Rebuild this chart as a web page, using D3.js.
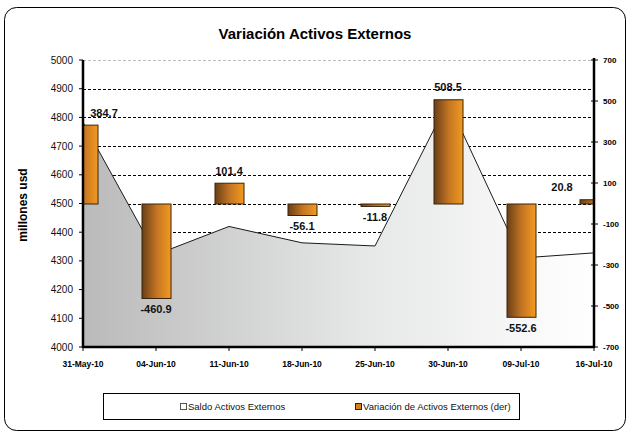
<!DOCTYPE html>
<html>
<head>
<meta charset="utf-8">
<script src="https://cdn.jsdelivr.net/npm/d3@7/dist/d3.min.js"></script>
<style>
  html, body { margin: 0; padding: 0; background: #fff; }
  svg { display: block; font-family: "Liberation Sans", Arial, sans-serif; }
</style>
</head>
<body>
<script>
// ---- data ----
const categories = ["31-May-10","04-Jun-10","11-Jun-10","18-Jun-10","25-Jun-10","30-Jun-10","09-Jul-10","16-Jul-10"];
const saldo = [4783, 4322, 4420, 4363, 4352, 4855, 4310, 4328];
const variacion = [384.7, -460.9, 101.4, -56.1, -11.8, 508.5, -552.6, 20.8];
const leftTicks = [4000,4100,4200,4300,4400,4500,4600,4700,4800,4900,5000];
const rightTicks = [-700,-500,-300,-100,100,300,500,700];
const seriesNames = ["Saldo Activos Externos", "Variación de Activos Externos (der)"];
const title = "Variación Activos Externos";
const yTitle = "millones usd";

const W = 630, H = 433;
const L = 83, R = 594, T = 60, B = 347;

const svg = d3.select("body").append("svg").attr("width", W).attr("height", H);
const defs = svg.append("defs");

const areaGrad = defs.append("linearGradient").attr("id","areaGrad")
  .attr("gradientUnits","userSpaceOnUse").attr("x1",L).attr("x2",R).attr("y1",0).attr("y2",0);
areaGrad.append("stop").attr("offset","0").attr("stop-color","#bababa");
areaGrad.append("stop").attr("offset","0.55").attr("stop-color","#e6e7e7");
areaGrad.append("stop").attr("offset","1").attr("stop-color","#ffffff");

const barGrad = defs.append("linearGradient").attr("id","barGrad")
  .attr("x1","0").attr("x2","1").attr("y1","0").attr("y2","0");
barGrad.append("stop").attr("offset","0").attr("stop-color","#6a3f18");
barGrad.append("stop").attr("offset","0.5").attr("stop-color","#c27423");
barGrad.append("stop").attr("offset","1").attr("stop-color","#f39a20");

defs.append("clipPath").attr("id","plotClip").append("rect")
  .attr("x",L).attr("y",T-1).attr("width",R-L).attr("height",B-T+1);

// outer border
svg.append("rect").attr("x",4.5).attr("y",7.5).attr("width",621).attr("height",423)
  .attr("rx",12).attr("fill","#fff").attr("stroke","#000").attr("stroke-width",1);

// scales
const x = d3.scalePoint().domain(categories).range([L, R]);
const yL = d3.scaleLinear().domain([4000,5000]).range([B, T]);
const yR = d3.scaleLinear().domain([-700,700]).range([B, T]);
const barW = 29;

// title
svg.append("text").attr("x",315).attr("y",39).attr("text-anchor","middle")
  .attr("font-size",15).attr("font-weight","bold").text(title);

// y title
svg.append("text").attr("transform","translate(27,205) rotate(-90)")
  .attr("text-anchor","middle").attr("font-size",12).attr("font-weight","bold").text(yTitle);

// gridlines
svg.append("g").selectAll("line").data(leftTicks.filter(d => d > 4000)).join("line")
  .attr("x1",L).attr("x2",R).attr("y1",d => Math.round(yL(d))+0.5).attr("y2",d => Math.round(yL(d))+0.5)
  .attr("stroke", d => d === 5000 ? "#bdbdbd" : "#000")
  .attr("stroke-width",1).attr("stroke-dasharray","3,2");

// area
const plot = svg.append("g").attr("clip-path","url(#plotClip)");
const idx = d3.range(categories.length);
plot.append("path").datum(idx)
  .attr("d", d3.area().x(i => x(categories[i])).y0(B).y1(i => yL(saldo[i])))
  .attr("fill","url(#areaGrad)");
plot.append("path").datum(idx)
  .attr("d", d3.line().x(i => x(categories[i])).y(i => yL(saldo[i])))
  .attr("fill","none").attr("stroke","#1a1a1a").attr("stroke-width",1);

// bars
plot.selectAll("rect.bar").data(idx).join("rect").attr("class","bar")
  .attr("x", i => x(categories[i]) - barW/2 + 0.5)
  .attr("width", barW)
  .attr("y", i => Math.min(yR(variacion[i]), yR(0)) + 0.5)
  .attr("height", i => Math.abs(yR(variacion[i]) - yR(0)))
  .attr("fill","url(#barGrad)").attr("stroke","#3a2208").attr("stroke-width",1);

// axes lines
svg.append("line").attr("x1",L).attr("x2",L).attr("y1",T).attr("y2",B+1).attr("stroke","#000").attr("stroke-width",2.5);
svg.append("line").attr("x1",R).attr("x2",R).attr("y1",T-2).attr("y2",B+1).attr("stroke","#000").attr("stroke-width",2.5);
svg.append("line").attr("x1",L).attr("x2",R).attr("y1",B).attr("y2",B).attr("stroke","#000").attr("stroke-width",2.5);

// left ticks
const gl = svg.append("g");
gl.selectAll("line").data(leftTicks).join("line")
  .attr("x1",L-4).attr("x2",L).attr("y1",d => yL(d)).attr("y2",d => yL(d)).attr("stroke","#000");
gl.selectAll("text").data(leftTicks).join("text")
  .attr("x",73).attr("y",d => yL(d)).attr("dy","0.35em").attr("text-anchor","end")
  .attr("font-size",10).attr("fill","#111").text(d => d);

// right ticks
const gr = svg.append("g");
gr.selectAll("line").data(rightTicks).join("line")
  .attr("x1",R-3).attr("x2",R+4).attr("y1",d => yR(d)).attr("y2",d => yR(d)).attr("stroke","#000");
gr.selectAll("text").data(rightTicks).join("text")
  .attr("x",603).attr("y",d => yR(d)).attr("dy","0.35em").attr("text-anchor","start")
  .attr("font-size",8).attr("font-weight","bold").text(d => d);

// x ticks + labels
const gx = svg.append("g");
gx.selectAll("line").data(categories).join("line")
  .attr("x1",d => x(d)).attr("x2",d => x(d)).attr("y1",B).attr("y2",B+4).attr("stroke","#000");
gx.selectAll("text").data(categories).join("text")
  .attr("x",d => x(d)).attr("y",367).attr("text-anchor","middle")
  .attr("font-size",8.5).attr("font-weight","bold").text(d => d);

// data labels
svg.append("g").selectAll("text").data(idx).join("text")
  .attr("x", i => Math.max(L + 21, Math.min(R - 32, x(categories[i]))))
  .attr("y", i => variacion[i] >= 0 ? yR(variacion[i]) - 8 : yR(variacion[i]) + 15)
  .attr("text-anchor","middle").attr("font-size",11).attr("font-weight","bold")
  .attr("fill","#111")
  .text(i => variacion[i].toFixed(1));

// legend
const lg = svg.append("g");
lg.append("rect").attr("x",103.5).attr("y",393.5).attr("width",416).attr("height",26)
  .attr("fill","#fff").attr("stroke","#000").attr("stroke-width",1);
lg.append("rect").attr("x",180.5).attr("y",403.5).attr("width",6).attr("height",6)
  .attr("fill","#fff").attr("stroke","#555");
lg.append("text").attr("x",188).attr("y",410).attr("font-size",9.5).attr("fill","#111").text(seriesNames[0]);
lg.append("rect").attr("x",355.5).attr("y",403.5).attr("width",6).attr("height",6)
  .attr("fill","#d7801f").attr("stroke","#3a2208");
lg.append("text").attr("x",363).attr("y",410).attr("font-size",9.5).attr("fill","#111").text(seriesNames[1]);
</script>
</body>
</html>
